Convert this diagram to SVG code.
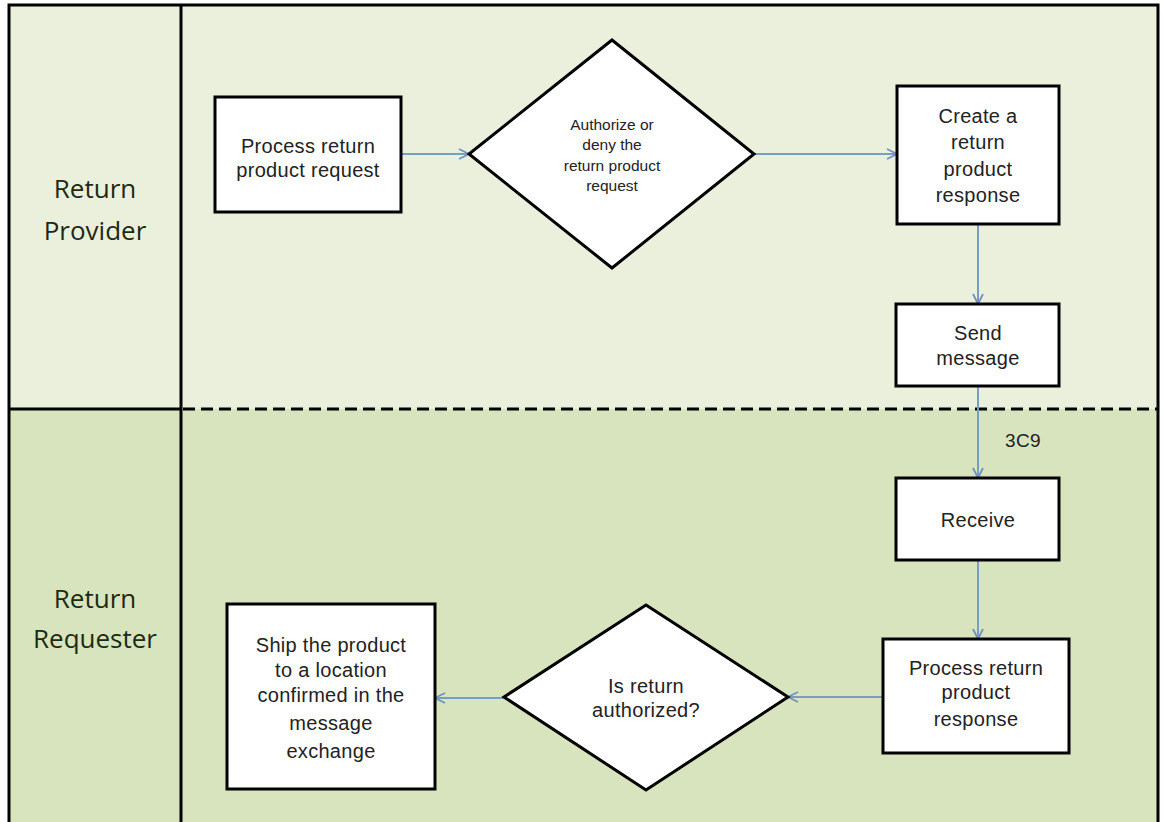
<svg xmlns="http://www.w3.org/2000/svg" width="1164" height="822" viewBox="0 0 1164 822">
<defs>
<style>
.lane-label{font-family:"Open Sans","Lato","Liberation Sans",sans-serif;font-size:26px;fill:#1e2a14;text-anchor:middle}
.node rect,.node polygon{fill:#ffffff;stroke:#000000;stroke-width:3}
.t{font-family:"Liberation Sans",Arial,sans-serif;font-size:20px;fill:#222222;text-anchor:middle;letter-spacing:0.3px}
.ts{font-family:"Liberation Sans",Arial,sans-serif;font-size:15.5px;fill:#222222;text-anchor:middle}
.conn{stroke:#7a9dc2;stroke-width:2;fill:none}
</style>
<marker id="arr" viewBox="0 0 12 12" refX="11" refY="6" markerWidth="12" markerHeight="12" markerUnits="userSpaceOnUse" orient="auto">
<path d="M1,1 L11,6 L1,11" fill="none" stroke="#6f93bb" stroke-width="1.8"/>
</marker>
</defs>
<rect x="0" y="0" width="1164" height="822" fill="#ffffff"/>
<g id="lanes">
<rect x="9" y="5" width="1149" height="404" fill="#ebf0dd"/>
<rect x="9" y="409" width="1149" height="420" fill="#d7e4bd"/>
<rect x="9" y="5" width="1149" height="830" fill="none" stroke="#000" stroke-width="3"/>
<line x1="181" y1="5" x2="181" y2="822" stroke="#000" stroke-width="3"/>
<line x1="9" y1="409" x2="181" y2="409" stroke="#000" stroke-width="3"/>
<line x1="183" y1="409" x2="1158" y2="409" stroke="#000" stroke-width="3" stroke-dasharray="12,6"/>
<text class="lane-label" x="95" y="198">Return</text>
<text class="lane-label" x="95" y="240">Provider</text>
<text class="lane-label" x="95" y="608">Return</text>
<text class="lane-label" x="95" y="648">Requester</text>
</g>
<g id="connectors">
<line class="conn" x1="401" y1="154" x2="469" y2="154" marker-end="url(#arr)"/>
<line class="conn" x1="754" y1="154" x2="897" y2="154" marker-end="url(#arr)"/>
<line class="conn" x1="978" y1="224" x2="978" y2="304" marker-end="url(#arr)"/>
<line class="conn" x1="978" y1="386" x2="978" y2="478" marker-end="url(#arr)"/>
<line class="conn" x1="978" y1="560" x2="978" y2="639" marker-end="url(#arr)"/>
<line class="conn" x1="883" y1="697" x2="788" y2="697" marker-end="url(#arr)"/>
<line class="conn" x1="504" y1="698" x2="435" y2="698" marker-end="url(#arr)"/>
<text class="t" x="1023" y="447" style="font-size:19px">3C9</text>
</g>
<g id="n1" class="node">
<rect x="215" y="97" width="186" height="115"/>
<text class="t" x="308" y="153">Process return</text>
<text class="t" x="308" y="177">product request</text>
</g>
<g id="n2" class="node">
<polygon points="612,40 754,154 612,268 469,154"/>
<text class="ts" x="612" y="130">Authorize or</text>
<text class="ts" x="612" y="150">deny the</text>
<text class="ts" x="612" y="171">return product</text>
<text class="ts" x="612" y="191">request</text>
</g>
<g id="n3" class="node">
<rect x="897" y="86" width="162" height="138"/>
<text class="t" x="978" y="123">Create a</text>
<text class="t" x="978" y="149">return</text>
<text class="t" x="978" y="176">product</text>
<text class="t" x="978" y="202">response</text>
</g>
<g id="n4" class="node">
<rect x="896" y="304" width="163" height="82"/>
<text class="t" x="978" y="340">Send</text>
<text class="t" x="978" y="365">message</text>
</g>
<g id="n5" class="node">
<rect x="896" y="478" width="163" height="82"/>
<text class="t" x="978" y="527">Receive</text>
</g>
<g id="n6" class="node">
<rect x="883" y="639" width="186" height="114"/>
<text class="t" x="976" y="675">Process return</text>
<text class="t" x="976" y="699">product</text>
<text class="t" x="976" y="726">response</text>
</g>
<g id="n7" class="node">
<polygon points="646,605 788,697 646,790 504,697"/>
<text class="t" x="646" y="693">Is return</text>
<text class="t" x="646" y="717">authorized?</text>
</g>
<g id="n8" class="node">
<rect x="227" y="604" width="208" height="185"/>
<text class="t" x="331" y="652">Ship the product</text>
<text class="t" x="331" y="677">to a location</text>
<text class="t" x="331" y="702">confirmed in the</text>
<text class="t" x="331" y="730">message</text>
<text class="t" x="331" y="758">exchange</text>
</g>
</svg>
